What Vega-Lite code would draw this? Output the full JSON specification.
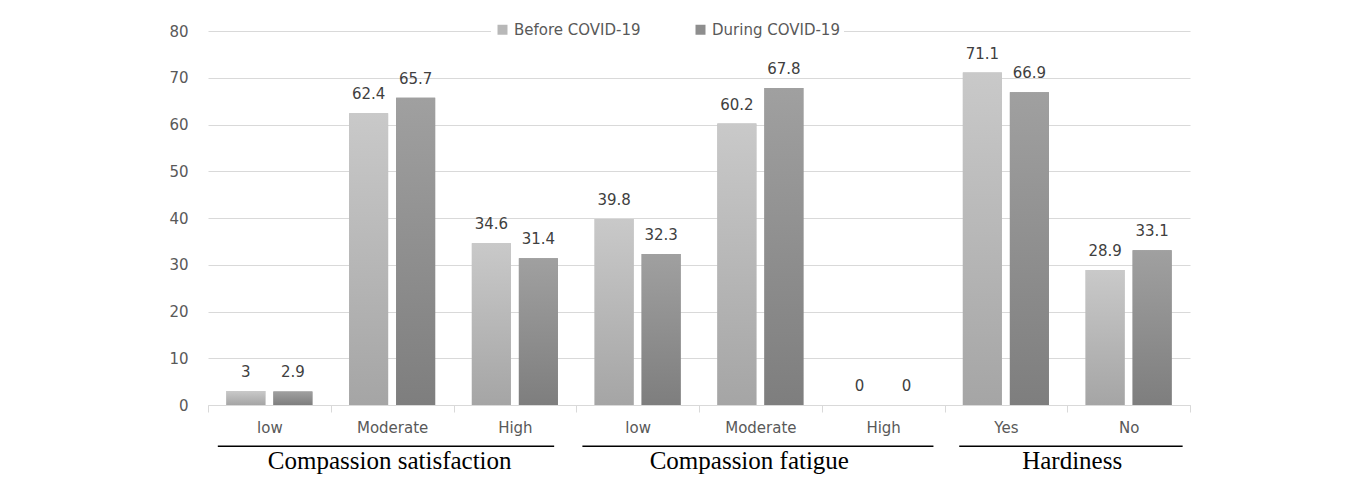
{
  "$schema": "https://vega.github.io/schema/vega-lite/v6.json",
  "autosize": {"type": "none"},
  "padding": {"left": 208, "top": 31, "right": 165, "bottom": 72},
  "width": 982,
  "height": 374,
  "background": "white",
  "config": {
    "view": {"stroke": null},
    "font": "DejaVu Sans"
  },
  "datasets": {
    "bars": [
      {"cat": "low|CS", "series": "Before COVID-19", "value": 3},
      {"cat": "low|CS", "series": "During COVID-19", "value": 2.9},
      {"cat": "Moderate|CS", "series": "Before COVID-19", "value": 62.4},
      {"cat": "Moderate|CS", "series": "During COVID-19", "value": 65.7},
      {"cat": "High|CS", "series": "Before COVID-19", "value": 34.6},
      {"cat": "High|CS", "series": "During COVID-19", "value": 31.4},
      {"cat": "low|CF", "series": "Before COVID-19", "value": 39.8},
      {"cat": "low|CF", "series": "During COVID-19", "value": 32.3},
      {"cat": "Moderate|CF", "series": "Before COVID-19", "value": 60.2},
      {"cat": "Moderate|CF", "series": "During COVID-19", "value": 67.8},
      {"cat": "High|CF", "series": "Before COVID-19", "value": 0},
      {"cat": "High|CF", "series": "During COVID-19", "value": 0},
      {"cat": "Yes|H", "series": "Before COVID-19", "value": 71.1},
      {"cat": "Yes|H", "series": "During COVID-19", "value": 66.9},
      {"cat": "No|H", "series": "Before COVID-19", "value": 28.9},
      {"cat": "No|H", "series": "During COVID-19", "value": 33.1}
    ],
    "groups": [
      {"group": "Compassion satisfaction", "start": 0.08, "end": 2.82, "mid": 1.48},
      {"group": "Compassion fatigue", "start": 3.05, "end": 5.91, "mid": 4.41},
      {"group": "Hardiness", "start": 6.12, "end": 7.94, "mid": 7.04}
    ]
  },
  "layer": [
    {
      "data": {"name": "bars"},
      "encoding": {
        "x": {
          "field": "cat", "type": "nominal",
          "sort": ["low|CS","Moderate|CS","High|CS","low|CF","Moderate|CF","High|CF","Yes|H","No|H"],
          "scale": {"paddingInner": 0, "paddingOuter": 0},
          "axis": {
            "title": null,
            "labelExpr": "datum.value ? split(datum.value,'|')[0] : ''",
            "labelAngle": 0,
            "labelFont": "DejaVu Sans",
            "labelFontSize": 15,
            "labelColor": "#595959",
            "labelPadding": 8,
            "domainColor": "#d9d9d9",
            "tickColor": "#d9d9d9",
            "tickSize": 7,
            "tickBand": "extent",
            "grid": false
          }
        },
        "xOffset": {
          "field": "series", "type": "nominal",
          "scale": {"domain": ["Before COVID-19", "During COVID-19"], "paddingInner": 0.17, "paddingOuter": 0.39}
        },
        "y": {
          "field": "value", "type": "quantitative",
          "scale": {"domain": [0, 80], "nice": false},
          "axis": {
            "title": null,
            "values": [0,10,20,30,40,50,60,70,80],
            "labelFont": "DejaVu Sans",
            "labelFontSize": 15,
            "labelColor": "#595959",
            "labelPadding": 20,
            "domain": false,
            "ticks": false,
            "gridColor": "#d9d9d9",
            "gridWidth": 1
          }
        }
      },
      "layer": [
        {
          "mark": {"type": "bar"},
          "encoding": {
            "color": {
              "field": "series", "type": "nominal",
              "scale": {"domain": ["Before COVID-19", "During COVID-19"], "range": ["#b8b8b8", "#8e8e8e"]},
              "legend": {
                "title": null,
                "orient": "none",
                "direction": "horizontal",
                "legendX": 283,
                "legendY": -13,
                "symbolType": "square",
                "symbolSize": 100,
                "symbolStrokeWidth": 0,
                "labelFont": "DejaVu Sans",
                "labelFontSize": 15,
                "labelColor": "#595959",
                "columnPadding": 52,
                "fillColor": "white",
                "padding": 4
              }
            }
          }
        },
        {
          "mark": {"type": "bar"},
          "encoding": {
            "fill": {
              "condition": {
                "test": "datum.series === 'Before COVID-19'",
                "value": {"gradient": "linear", "x1": 0, "y1": 0, "x2": 0, "y2": 1,
                  "stops": [{"offset": 0, "color": "#c9c9c9"}, {"offset": 1, "color": "#a5a5a5"}]}
              },
              "value": {"gradient": "linear", "x1": 0, "y1": 0, "x2": 0, "y2": 1,
                "stops": [{"offset": 0, "color": "#a0a0a0"}, {"offset": 1, "color": "#7e7e7e"}]}
            }
          }
        },
        {
          "mark": {"type": "text", "baseline": "middle", "dy": -19, "fontSize": 15, "font": "DejaVu Sans", "color": "#404040"},
          "encoding": {
            "text": {"field": "value", "type": "quantitative"}
          }
        }
      ]
    },
    {
      "data": {"name": "groups"},
      "encoding": {
        "x": {"field": "start", "type": "quantitative", "scale": {"domain": [0, 8], "nice": false, "zero": false}, "axis": null}
      },
      "layer": [
        {
          "mark": {"type": "rule", "color": "#000000", "strokeWidth": 1.5},
          "encoding": {
            "x2": {"field": "end"},
            "y": {"datum": -8.8}
          }
        },
        {
          "mark": {"type": "text", "font": "Liberation Serif", "fontSize": 25, "baseline": "middle", "color": "#000000"},
          "encoding": {
            "x": {"field": "mid", "type": "quantitative"},
            "y": {"datum": -11.9},
            "text": {"field": "group"}
          }
        }
      ]
    }
  ],
  "resolve": {"scale": {"x": "independent"}}
}
